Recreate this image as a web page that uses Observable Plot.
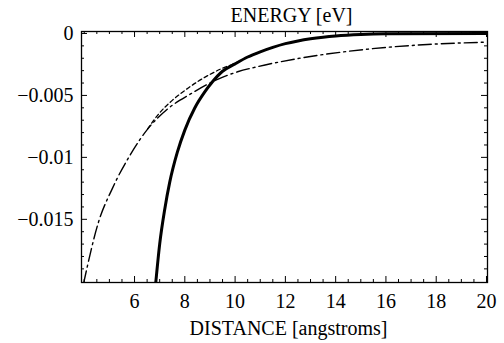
<!DOCTYPE html>
<html><head><meta charset="utf-8">
<script src="https://cdn.jsdelivr.net/npm/d3@7"></script>
<script src="https://cdn.jsdelivr.net/npm/@observablehq/plot@0.6"></script>
<style>body{margin:0;background:#fff}</style>
</head><body><div id="chart"></div>
<script>
// Dash-dot curve
const dashDotX = [3.97, 4.57, 5.12, 5.84, 6.52, 7.31, 8.23, 9.10, 10.10, 10.89, 12.48, 15.11, 17.65, 20.0];
const dashDotY = [-0.0202, -0.0152, -0.0125, -0.00976, -0.00772, -0.0061, -0.00488, -0.0039, -0.00309, -0.00268, -0.00203, -0.0013, -0.00089, -0.0007];
// Thick solid curve
const solidX = [6.84, 7.0, 7.2, 7.4, 7.7, 8.0, 8.4, 8.8, 9.1, 9.5, 10.0, 10.5, 11.0, 11.5, 12.0, 12.5, 13.0, 13.5, 14.0, 15.0, 16.0, 20.0];
const solidY = [-0.0202, -0.0170, -0.0142, -0.0120, -0.0096, -0.0078, -0.0060, -0.0047, -0.0039, -0.00305, -0.00245, -0.0019, -0.00148, -0.00112, -0.00082, -0.0006, -0.00043, -0.0003, -0.0002, -0.00008, -0.00003, 0];
// Dotted curve
const dotX = [6.52, 7.0, 7.5, 8.0, 8.5, 9.0, 9.5, 10.0, 10.5, 11.0, 11.5, 12.0, 12.5, 13.0, 13.5, 14.0, 15.0, 16.0, 20.0];
const dotY = [-0.0077, -0.0064, -0.0054, -0.0046, -0.0039, -0.0033, -0.0028, -0.0024, -0.0019, -0.00148, -0.00112, -0.00082, -0.0006, -0.00043, -0.0003, -0.0002, -0.00008, -0.00003, 0];

const xTickLabels = [6, 8, 10, 12, 14, 16, 18, 20];
const yTickLabels = [0, -0.005, -0.01, -0.015];
const xMinorTicks = d3.range(8, 40).map(i => i / 2);      // 4 .. 19.5 step 0.5
const yMinorTicks = d3.range(0, 20).map(i => -i / 1000);  // 0 .. -0.019
const titleText = "ENERGY [eV]";
const xLabelText = "DISTANCE [angstroms]";

const W = 504, H = 343;
const mL = 81, mR = 17, mT = 31, mB = 61;
const fw = W - mL - mR, fh = H - mT - mB;

const toRows = (xs, ys) => xs.map((x, i) => ({x, y: ys[i]}));
const dashDot = toRows(dashDotX, dashDotY);
const solid = toRows(solidX, solidY);
const dotted = toRows(dotX, dotY);

const major = 6, minor = 3;
const isMajorX = d => xTickLabels.includes(d);
const isMajorY = d => yTickLabels.some(v => Math.abs(v - d) < 1e-9);

const chart = Plot.plot({
  width: W, height: H,
  marginLeft: mL, marginRight: mR, marginTop: mT, marginBottom: mB,
  style: {fontFamily: "'Liberation Serif', 'Times New Roman', serif", fontSize: "20px", background: "#fff", color: "#000"},
  x: {domain: [3.89, 20.04], ticks: xTickLabels, tickSize: 0, tickPadding: 11, label: null},
  y: {domain: [-0.0201, 0.00016], ticks: yTickLabels, tickSize: 0, tickPadding: 8, label: null,
      tickFormat: d => d === 0 ? "0" : "\u2212" + String(Math.abs(d))},
  marks: [
    Plot.ruleX(xMinorTicks.filter(d => !isMajorX(d)), {x: d => d, insetTop: fh - minor, stroke: "#000", strokeWidth: 1}),
    Plot.ruleX(xMinorTicks.filter(isMajorX).concat([20]), {x: d => d, insetTop: fh - major, stroke: "#000", strokeWidth: 1}),
    Plot.ruleX(xMinorTicks.filter(d => !isMajorX(d)), {x: d => d, insetBottom: fh - minor, stroke: "#000", strokeWidth: 1}),
    Plot.ruleX(xMinorTicks.filter(isMajorX).concat([20]), {x: d => d, insetBottom: fh - major, stroke: "#000", strokeWidth: 1}),
    Plot.ruleY(yMinorTicks.filter(d => !isMajorY(d)), {y: d => d, insetRight: fw - minor, stroke: "#000", strokeWidth: 1}),
    Plot.ruleY(yMinorTicks.filter(isMajorY), {y: d => d, insetRight: fw - major, stroke: "#000", strokeWidth: 1}),
    Plot.ruleY(yMinorTicks.filter(d => !isMajorY(d)), {y: d => d, insetLeft: fw - minor, stroke: "#000", strokeWidth: 1}),
    Plot.ruleY(yMinorTicks.filter(isMajorY), {y: d => d, insetLeft: fw - major, stroke: "#000", strokeWidth: 1}),
    Plot.line(dashDot, {x: "x", y: "y", curve: "monotone-x", stroke: "#000", strokeWidth: 1.4, strokeDasharray: "13,4,2,4", clip: true}),
    Plot.line(dotted, {x: "x", y: "y", curve: "monotone-x", stroke: "#000", strokeWidth: 1.3, strokeDasharray: "4,3", clip: true}),
    Plot.line(solid, {x: "x", y: "y", curve: "monotone-x", stroke: "#000", strokeWidth: 3, clip: true}),
    Plot.frame({stroke: "#000", strokeWidth: 1.3}),
    Plot.text([titleText], {frameAnchor: "top", lineAnchor: "bottom", dy: -10, dx: 7, fontSize: 20, fill: "#000"}),
    Plot.text([xLabelText], {frameAnchor: "bottom", lineAnchor: "bottom", dy: 52, dx: 4, fontSize: 20, fill: "#000"})
  ]
});
document.getElementById("chart").appendChild(chart);
</script>
</body></html>
